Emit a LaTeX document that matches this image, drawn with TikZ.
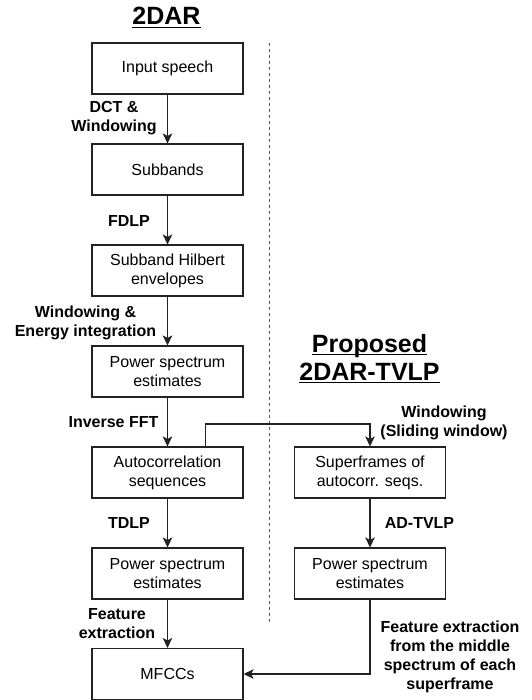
\documentclass[tikz,border=0pt]{standalone}
\usepackage{fontspec}
\setmainfont{Liberation Sans}
\usetikzlibrary{arrows.meta}
\definecolor{ln}{HTML}{222222}
\begin{document}
\begin{tikzpicture}[x=1pt,y=-1pt,
  box/.style={draw=ln, line width=1.1pt, minimum width=151pt, minimum height=51pt, inner sep=0pt, align=center, font=\fontsize{16}{19}\selectfont},
  lbl/.style={font=\fontsize{16}{19}\selectfont\bfseries, align=center, inner sep=0pt},
  ttl/.style={font=\fontsize{25}{28}\selectfont\bfseries, inner sep=0pt, anchor=base},
  arr/.style={draw=ln, line width=1.1pt, -{Stealth[length=10pt,width=9.5pt,inset=2.5pt]}},
  sepline/.style={draw=black!65, line width=1pt, dash pattern=on 3pt off 3pt},
  uline/.style={line width=1.5pt}]
\useasboundingbox (0,0) rectangle (531,700);

% titles
\node[ttl] (t1) at (166.5,25) {2DAR};
\node[ttl] (t2) at (369.5,352) {Proposed};
\node[ttl] (t3) at (369.5,380) {2DAR-TVLP};
\draw[uline] ([yshift=-2.5pt]t1.base west) -- ([yshift=-2.5pt]t1.base east);
\draw[uline] ([yshift=-2.5pt]t2.base west) -- ([yshift=-2.5pt]t2.base east);
\draw[uline] ([yshift=-2.5pt]t3.base west) -- ([yshift=-2.5pt]t3.base east);

% separator
\coordinate (d1) at (269,43);
\coordinate (d2) at (269,622);
\draw[sepline] (d1) -- (d2);

% left column
\node[box] (in)  at (167.5,68.5)  {Input speech};
\node[box] (sb)  at (167.5,169.5) {Subbands};
\node[box] (he)  at (167.5,270.5) {Subband Hilbert\\envelopes};
\node[box] (ps1) at (167.5,371.5) {Power spectrum\\estimates};
\node[box] (ac)  at (167.5,472.5) {Autocorrelation\\sequences};
\node[box] (ps2) at (167.5,573.5) {Power spectrum\\estimates};
\node[box] (mf)  at (167.5,674)   {MFCCs};

% right column
\node[box] (sf)  at (370,472.5) {Superframes of\\autocorr. seqs.};
\node[box] (ps3) at (370,573.5) {Power spectrum\\estimates};

% connectors
\draw[arr] (in) -- (sb);
\draw[arr] (sb) -- (he);
\draw[arr] (he) -- (ps1);
\draw[arr] (ps1) -- (ac);
\draw[arr] (ac) -- (ps2);
\draw[arr] (ps2) -- (mf);
\coordinate (b1) at (205.5,424);
\draw[arr] (ac.north -| b1) -- (b1) -| (sf.north);
\draw[arr] (sf) -- (ps3);
\draw[arr] (ps3.south) |- (mf.east);

% labels
\node[lbl] (l1) at (114,118.5) {DCT \&\\Windowing};
\node[lbl] (l2) at (129,221) {FDLP};
\node[lbl] (l3) at (85.5,322.5) {Windowing \&\\Energy integration};
\node[lbl] (l4) at (113.5,422) {Inverse FFT};
\node[lbl] (l5) at (129,523) {TDLP};
\node[lbl] (l6) at (117,623.5) {Feature\\extraction};
\node[lbl] (l7) at (444,422.5) {Windowing\\(Sliding window)};
\node[lbl] (l8) at (419.5,523) {AD-TVLP};
\node[lbl] (l9) at (450,657) {Feature extraction\\from the middle\\spectrum of each\\superframe};
\end{tikzpicture}
\end{document}
